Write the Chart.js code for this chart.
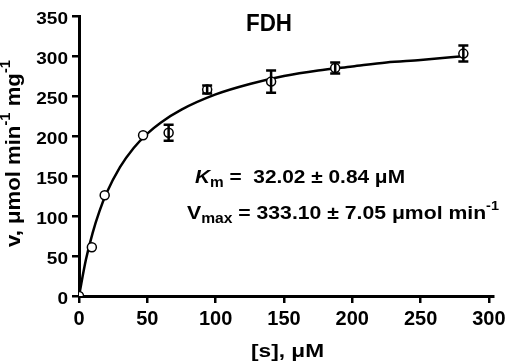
<!DOCTYPE html>
<html>
<head>
<meta charset="UTF-8">
<title>FDH</title>
<script src="https://cdn.jsdelivr.net/npm/chart.js"></script>
<style>
  html, body { margin: 0; padding: 0; background: #fff; }
  #wrap { width: 510px; height: 361px; }
</style>
</head>
<body>
<div id="wrap"><canvas id="chart"></canvas></div>
<script>
// measured points, [s] in uM, v in umol min-1 mg-1
const substrate = [0, 9.4, 18.8, 46.9, 65.6, 93.8, 140.6, 187.5, 281.3];
const rate = [0, 61, 126, 201, 204, 258, 268, 285, 303];
const rateErr = [0, 0, 0, 0, 10, 5, 14, 7, 10];

// fitted curve
const fitS = [0, 5, 10, 15, 20, 30, 40, 50, 60, 75, 100, 125, 150, 175, 200, 225, 250, 283];
const fitV = [0, 45, 79, 106, 128, 161, 185, 203, 217, 233, 252, 265, 275, 282, 287, 292, 295, 300];

const xTicks = [0, 50, 100, 150, 200, 250, 300];
const yTicks = [0, 50, 100, 150, 200, 250, 300, 350];

const FONT = '"Liberation Sans", Arial, sans-serif';
const B = n => 'bold ' + n + 'px ' + FONT;

// text made of pieces (sub/superscripts), squeezed/stretched to a given width
function drawRich(ctx, x, y, parts, width) {
    let total = 0;
    parts.forEach(p => { ctx.font = p.font; total += ctx.measureText(p.text).width; });
    ctx.save();
    ctx.translate(x, y);
    ctx.scale(width ? width / total : 1, 1);
    let cx = 0;
    parts.forEach(p => {
        ctx.font = p.font;
        ctx.fillText(p.text, cx, p.dy || 0);
        cx += ctx.measureText(p.text).width;
    });
    ctx.restore();
}

const extras = {
    id: 'extras',
    afterDatasetsDraw(chart) {
        const ctx = chart.ctx;
        const xs = chart.scales.x, ys = chart.scales.y;
        ctx.save();
        // error bars
        ctx.strokeStyle = '#000';
        ctx.lineWidth = 2.5;
        substrate.forEach((s, i) => {
            if (!rateErr[i]) return;
            const px = xs.getPixelForValue(s);
            const top = ys.getPixelForValue(rate[i] + rateErr[i]);
            const bot = ys.getPixelForValue(rate[i] - rateErr[i]);
            ctx.beginPath();
            ctx.moveTo(px, top); ctx.lineTo(px, bot);
            ctx.moveTo(px - 5, top); ctx.lineTo(px + 5, top);
            ctx.moveTo(px - 5, bot); ctx.lineTo(px + 5, bot);
            ctx.stroke();
        });
        ctx.restore();
    },
    afterDraw(chart) {
        const ctx = chart.ctx;
        const xs = chart.scales.x, ys = chart.scales.y;
        ctx.save();
        ctx.fillStyle = '#000';
        ctx.textBaseline = 'alphabetic';

        // tick labels
        ctx.textAlign = 'center';
        ctx.font = B(20);
        xs.ticks.forEach(t => ctx.fillText(String(t.value), xs.getPixelForValue(t.value), 325));
        ctx.textAlign = 'right';
        ys.ticks.forEach(t => {
            const py = ys.getPixelForValue(t.value);
            ctx.save();
            ctx.translate(68, py + 7.5);
            ctx.scale(1.12, 1);
            ctx.font = B(17);
            ctx.fillText(String(t.value), 0, 0);
            ctx.restore();
        });
        ctx.textAlign = 'left';

        // title
        drawRich(ctx, 246, 31, [{text: 'FDH', font: B(24)}], 46);

        // fit results
        drawRich(ctx, 195, 183, [
            {text: 'K', font: 'italic bold 19px ' + FONT},
            {text: 'm', font: B(14), dy: 4},
            {text: ' =  32.02 \u00b1 0.84 \u03bcM', font: B(19)}
        ], 210);
        drawRich(ctx, 187, 219, [
            {text: 'V', font: B(19)},
            {text: 'max', font: B(14), dy: 4},
            {text: ' = 333.10 \u00b1 7.05 \u03bcmol min', font: B(19)},
            {text: '-1', font: B(13), dy: -9}
        ], 312);

        // axis titles
        drawRich(ctx, 251, 357, [{text: '[s], \u03bcM', font: B(19)}], 73);
        const yParts = [
            {text: 'v, \u03bcmol min', font: B(21)},
            {text: '-1', font: B(14), dy: -10},
            {text: ' mg', font: B(21)},
            {text: '-1', font: B(14), dy: -10}
        ];
        ctx.save();
        ctx.translate(20, 154);
        ctx.rotate(-Math.PI / 2);
        drawRich(ctx, -93, 0, yParts, 187);
        ctx.restore();

        ctx.restore();
    }
};

new Chart(document.getElementById('chart'), {
    type: 'scatter',
    data: {
        datasets: [
            {
                label: 'fit',
                data: fitS.map((s, i) => ({x: s, y: fitV[i]})),
                showLine: true,
                borderColor: '#000',
                borderWidth: 2.5,
                pointRadius: 0,
                cubicInterpolationMode: 'monotone',
                order: 2
            },
            {
                label: 'FDH',
                data: substrate.map((s, i) => ({x: s, y: rate[i]})),
                showLine: false,
                pointRadius: 4.5,
                pointBackgroundColor: '#fff',
                pointBorderColor: '#000',
                pointBorderWidth: 1.5,
                order: 1
            }
        ]
    },
    options: {
        responsive: true,
        maintainAspectRatio: false,
        animation: false,
        layout: {padding: {top: 16, right: 17, left: 0, bottom: 0}},
        plugins: {legend: {display: false}, tooltip: {enabled: false}},
        scales: {
            x: {
                type: 'linear',
                min: 0,
                max: 303,
                afterFit: s => { s.height = 65; },
                afterBuildTicks: s => { s.ticks = xTicks.map(v => ({value: v})); },
                border: {display: true, color: '#000', width: 3},
                grid: {drawOnChartArea: false, color: '#000', tickLength: 7, lineWidth: 2.5},
                ticks: {display: false}
            },
            y: {
                type: 'linear',
                min: 0,
                max: 350,
                afterFit: s => { s.width = 79; },
                afterBuildTicks: s => { s.ticks = yTicks.map(v => ({value: v})); },
                border: {display: true, color: '#000', width: 3},
                grid: {drawOnChartArea: false, color: '#000', tickLength: 7, lineWidth: 2.5},
                ticks: {display: false}
            }
        }
    },
    plugins: [extras]
});
</script>
</body>
</html>
